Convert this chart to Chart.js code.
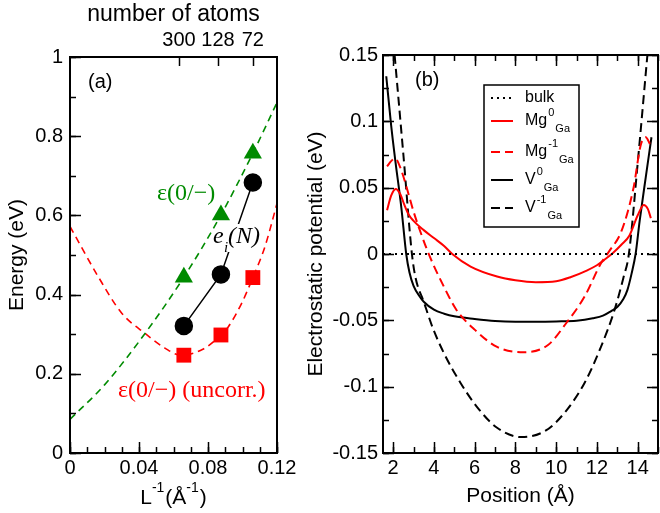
<!DOCTYPE html>
<html>
<head>
<meta charset="utf-8">
<script src="https://cdn.jsdelivr.net/npm/chart.js@4/dist/chart.umd.min.js"></script>
<style>
html, body { margin: 0; padding: 0; background: #fff; }
#wrap { position: relative; width: 660px; height: 513px; overflow: hidden; }
#c1 { position: absolute; left: 0; top: 0; }
#c2 { position: absolute; left: 300px; top: 0; }
</style>
</head>
<body>
<div id="wrap">
  <canvas id="c1" width="300" height="513"></canvas>
  <canvas id="c2" width="360" height="513"></canvas>
</div>
<script>
// ---- panneau (a) : niveaux vs 1/L ----
const invL = [0.066, 0.0875, 0.106];
const epsCorr = [0.444, 0.601, 0.757];     // triangles verts
const eiN = [0.321, 0.451, 0.683];         // cercles noirs
const epsUncorr = [0.247, 0.298, 0.443];   // carrés rouges
// courbes d'ajustement
const fitCorrX = [0, 0.02, 0.0435, 0.066, 0.0875, 0.106, 0.12];
const fitCorrY = [0.085, 0.172, 0.302, 0.444, 0.601, 0.757, 0.885];
const fitUncX = [0, 0.0164, 0.03, 0.0435, 0.055, 0.064, 0.077, 0.0875, 0.0918, 0.0995, 0.106, 0.113, 0.12];
const fitUncY = [0.572, 0.445, 0.353, 0.302, 0.265, 0.247, 0.262, 0.298, 0.319, 0.378, 0.443, 0.521, 0.63];
// axes
const xTicksA = [0, 0.04, 0.08, 0.12];
const yTicksA = [0, 0.2, 0.4, 0.6, 0.8, 1];
const atomTicks = [0.0632, 0.0858, 0.106];
const atomLabels = ["300", "128", "72"];

// ---- panneau (b) : potentiel électrostatique ----
const bulkX = [1.5, 15];
const bulkY = [0, 0];
const mg0X = [1.7, 1.9, 2.13, 2.35, 2.55, 2.75, 3.0, 3.5, 4.0, 4.5, 4.9, 5.8, 7.1, 8.0, 9.0, 10.0, 10.7, 11.5, 12.0, 12.4, 12.8, 13.2, 13.6, 14.0, 14.3, 14.5, 14.65];
const mg0Y = [0.033, 0.044, 0.049, 0.045, 0.037, 0.030, 0.025, 0.018, 0.012, 0.006, 0.0, -0.0095, -0.017, -0.0198, -0.0212, -0.0205, -0.0175, -0.0125, -0.0085, -0.004, 0.001, 0.007, 0.014, 0.029, 0.037, 0.034, 0.027];
const mgm1X = [1.7, 1.9, 2.1, 2.4, 2.7, 3.0, 3.4, 3.8, 4.5, 5.1, 6.0, 7.1, 8.4, 9.6, 10.5, 11.4, 12.2, 12.6, 13.2, 13.8, 14.15, 14.4, 14.6];
const mgm1Y = [0.066, 0.070, 0.072, 0.063, 0.048, 0.032, 0.014, -0.002, -0.025, -0.042, -0.057, -0.070, -0.074, -0.0686, -0.052, -0.032, -0.007, 0.002, 0.017, 0.05, 0.082, 0.088, 0.083];
const v0X = [1.66, 1.9, 2.1, 2.4, 2.64, 2.8, 3.0, 3.3, 3.5, 4.0, 4.5, 5.0, 6.0, 7.0, 8.0, 9.0, 10.0, 11.0, 11.8, 12.3, 12.7, 13.0, 13.3, 13.5, 13.7, 13.9, 14.1, 14.4, 14.68];
const v0Y = [0.134, 0.097, 0.071, 0.035, 0.0, -0.014, -0.024, -0.032, -0.036, -0.042, -0.045, -0.047, -0.049, -0.0505, -0.051, -0.051, -0.0508, -0.0503, -0.0485, -0.0465, -0.043, -0.040, -0.034, -0.027, -0.015, 0.0, 0.025, 0.058, 0.088];
const vm1X = [2.07, 2.5, 2.92, 3.1, 3.5, 3.95, 4.5, 5.3, 6.1, 7.1, 8.3, 9.5, 10.5, 11.4, 12.2, 12.85, 13.3, 13.57, 14.0, 14.48];
const vm1Y = [0.15, 0.075, 0.0, -0.018, -0.036, -0.056, -0.075, -0.097, -0.115, -0.131, -0.138, -0.133, -0.118, -0.097, -0.07, -0.043, -0.018, 0.0, 0.068, 0.15];
const posTicks = [2, 4, 6, 8, 10, 12, 14];
const potTicks = [-0.15, -0.1, -0.05, 0, 0.05, 0.1, 0.15];
const legendEntries = [
    { base: "bulk" },
    { base: "Mg", sup: "0", sub: "Ga" },
    { base: "Mg", sup: "-1", sub: "Ga" },
    { base: "V", sup: "0", sub: "Ga" },
    { base: "V", sup: "-1", sub: "Ga" }
];

const SANS = '"Liberation Sans", Arial, Helvetica, sans-serif';
const SERIF = '"Liberation Serif", "Times New Roman", serif';
const GREEN = "rgb(0,139,0)";
const RED = "#ff0000";

Chart.defaults.font.family = SANS;
Chart.defaults.color = "#000";

const pts = (xs, ys) => xs.map((x, i) => ({ x: x, y: ys[i] }));
const fmt = v => String(parseFloat(Number(v).toFixed(3)));
function range(a, b, step) {
    const out = [];
    for (let v = a; v <= b + 1e-9; v += step) out.push(+v.toFixed(4));
    return out;
}

// cadre + graduations vers l'intérieur
function cadre(specs) {
    return {
        id: "cadre",
        afterDraw(chart) {
            const { ctx, chartArea: a } = chart;
            ctx.save();
            ctx.strokeStyle = "#000";
            ctx.lineWidth = 1.5;
            specs.forEach(t => {
                const s = chart.scales[t.axis];
                t.values.forEach(v => {
                    if (v < s.min - 1e-9 || v > s.max + 1e-9) return;
                    const p = Math.round(s.getPixelForValue(v)) + 0.5;
                    ctx.beginPath();
                    if (t.side === "bottom") { ctx.moveTo(p, a.bottom); ctx.lineTo(p, a.bottom - t.len); }
                    if (t.side === "top") { ctx.moveTo(p, a.top); ctx.lineTo(p, a.top + t.len); }
                    if (t.side === "left") { ctx.moveTo(a.left, p); ctx.lineTo(a.left + t.len, p); }
                    if (t.side === "right") { ctx.moveTo(a.right, p); ctx.lineTo(a.right - t.len, p); }
                    ctx.stroke();
                });
            });
            ctx.lineWidth = 2;
            ctx.strokeRect(a.left, a.top, a.right - a.left, a.bottom - a.top);
            ctx.restore();
        }
    };
}

const tickFont = { family: SANS, size: 20 };
const titleFont = { family: SANS, size: 21 };

// textes du panneau (a)
const textesA = {
    id: "textesA",
    afterDatasetsDraw(chart) {
        const ctx = chart.ctx;
        ctx.save();
        ctx.textBaseline = "middle";
        ctx.fillStyle = "#000";
        ctx.font = "20px " + SANS;
        ctx.fillText("(a)", 88, 82);

        ctx.fillStyle = GREEN;
        ctx.font = "24px " + SERIF;
        ctx.fillText("\u03b5(0/\u2212)", 157, 194);

        ctx.fillStyle = RED;
        ctx.fillText("\u03b5(0/\u2212) (uncorr.)", 118, 391);

        // e_i(N) sur fond blanc
        ctx.fillStyle = "#fff";
        ctx.fillRect(222, 224, 38, 28);
        ctx.fillStyle = "#000";
        ctx.font = "italic 24px " + SERIF;
        ctx.fillText("e", 213, 237);
        ctx.font = "italic 15px " + SERIF;
        ctx.fillText("i", 224, 248);
        ctx.font = "italic 24px " + SERIF;
        ctx.fillText("(N)", 228, 237);

        // titre L^-1(Å^-1)
        const parts = [["L", 0], ["-1", 1], ["(\u00c5", 0], ["-1", 1], [")", 0]];
        let w = 0;
        parts.forEach(p => {
            ctx.font = (p[1] ? "14px " : "21px ") + SANS;
            w += ctx.measureText(p[0]).width + (p[1] ? 1 : 0);
        });
        const a = chart.chartArea;
        let x = (a.left + a.right) / 2 - w / 2;
        parts.forEach(p => {
            ctx.font = (p[1] ? "14px " : "21px ") + SANS;
            ctx.fillText(p[0], x, p[1] ? 488 : 498);
            x += ctx.measureText(p[0]).width + (p[1] ? 1 : 0);
        });
        ctx.restore();
    }
};

new Chart(document.getElementById("c1"), {
    type: "scatter",
    data: {
        datasets: [
            { data: pts(invL, epsCorr), xAxisID: "x", yAxisID: "y", pointStyle: "triangle", pointRadius: 10.5,
              backgroundColor: GREEN, borderColor: GREEN, borderWidth: 0, showLine: false },
            { data: pts(invL, eiN), xAxisID: "x", yAxisID: "y", pointStyle: "circle", pointRadius: 8.5,
              backgroundColor: "#000", borderColor: "#000", borderWidth: 1.5, showLine: true },
            { data: pts(invL, epsUncorr), xAxisID: "x", yAxisID: "y", pointStyle: "rect", pointRadius: 10.5,
              backgroundColor: RED, borderColor: RED, borderWidth: 0, showLine: false },
            { data: pts(fitCorrX, fitCorrY), xAxisID: "x", yAxisID: "y", showLine: true, pointRadius: 0,
              borderColor: GREEN, borderWidth: 1.6, borderDash: [7, 5], cubicInterpolationMode: "monotone" },
            { data: pts(fitUncX, fitUncY), xAxisID: "x", yAxisID: "y", showLine: true, pointRadius: 0,
              borderColor: RED, borderWidth: 1.6, borderDash: [7, 5], cubicInterpolationMode: "monotone" }
        ]
    },
    options: {
        responsive: false,
        devicePixelRatio: 1,
        animation: false,
        events: [],
        layout: { padding: { left: 0, right: 23, top: 0, bottom: 0 } },
        plugins: { legend: { display: false }, tooltip: { enabled: false } },
        scales: {
            x: {
                type: "linear", position: "bottom", min: 0, max: 0.12,
                afterBuildTicks: s => { s.ticks = xTicksA.map(v => ({ value: v })); },
                afterFit: s => { s.height = 60; },
                grid: { display: false, drawTicks: false }, border: { display: false },
                ticks: { font: tickFont, color: "#000", padding: 3, maxRotation: 0, autoSkip: false, callback: v => fmt(v) }
            },
            xTop: {
                type: "linear", position: "top", min: 0, max: 0.12,
                afterBuildTicks: s => { s.ticks = atomTicks.map(v => ({ value: v })); },
                afterFit: s => { s.height = 57; },
                grid: { display: false, drawTicks: false }, border: { display: false },
                ticks: { font: tickFont, color: "#000", padding: 5, maxRotation: 0, autoSkip: false,
                         callback: (v, i) => atomLabels[i] },
                title: { display: true, text: "number of atoms", font: { family: SANS, size: 23 }, color: "#000",
                         padding: { top: 1, bottom: 0 } }
            },
            y: {
                type: "linear", position: "left", min: 0, max: 1,
                afterBuildTicks: s => { s.ticks = yTicksA.map(v => ({ value: v })); },
                afterFit: s => { s.width = 70; },
                grid: { display: false, drawTicks: false }, border: { display: false },
                ticks: { font: tickFont, color: "#000", padding: 7, callback: v => fmt(v) },
                title: { display: true, text: "Energy (eV)", font: titleFont, color: "#000", padding: { top: 5, bottom: 0 } }
            }
        }
    },
    plugins: [cadre([
        { axis: "x", side: "bottom", values: range(0, 0.12, 0.01), len: 6 },
        { axis: "x", side: "bottom", values: xTicksA, len: 11 },
        { axis: "y", side: "left", values: range(0, 1, 0.1), len: 6 },
        { axis: "y", side: "left", values: yTicksA, len: 11 },
        { axis: "xTop", side: "top", values: atomTicks, len: 9 }
    ]), textesA]
});

// légende + étiquette du panneau (b)
const legendeB = {
    id: "legendeB",
    afterDraw(chart) {
        const ctx = chart.ctx;
        ctx.save();
        ctx.textBaseline = "middle";
        ctx.fillStyle = "#000";
        ctx.font = "20px " + SANS;
        ctx.fillText("(b)", 115, 80);

        const bx = 184, by = 85, bw = 95, bh = 142;
        ctx.fillStyle = "#fff";
        ctx.fillRect(bx, by, bw, bh);
        ctx.lineWidth = 1.5;
        ctx.strokeStyle = "#000";
        ctx.strokeRect(bx, by, bw, bh);
        const rows = [98, 121, 152, 180, 208];
        legendEntries.forEach((e, i) => {
            const ds = chart.data.datasets[i];
            const y = rows[i];
            ctx.strokeStyle = ds.borderColor;
            ctx.lineWidth = ds.borderWidth;
            ctx.setLineDash(ds.borderDash || []);
            ctx.beginPath();
            ctx.moveTo(191, y);
            ctx.lineTo(213, y);
            ctx.stroke();
            ctx.setLineDash([]);
            ctx.fillStyle = "#000";
            ctx.font = "16px " + SANS;
            let x = 225;
            ctx.fillText(e.base, x, y);
            x += ctx.measureText(e.base).width + 1;
            if (e.sup) {
                ctx.font = "11px " + SANS;
                ctx.fillText(e.sup, x, y - 8);
                x += ctx.measureText(e.sup).width + 1;
            }
            if (e.sub) {
                ctx.font = "11px " + SANS;
                ctx.fillText(e.sub, x, y + 8);
            }
        });
        ctx.restore();
    }
};

const courbe = (xs, ys, color, dash, width) => ({
    data: pts(xs, ys), showLine: true, pointRadius: 0, borderColor: color, borderWidth: width,
    borderDash: dash, cubicInterpolationMode: "monotone"
});

new Chart(document.getElementById("c2"), {
    type: "scatter",
    data: {
        datasets: [
            courbe(bulkX, bulkY, "#000", [2, 4], 2),
            courbe(mg0X, mg0Y, RED, [], 2),
            courbe(mgm1X, mgm1Y, RED, [9, 5], 2),
            courbe(v0X, v0Y, "#000", [], 2),
            courbe(vm1X, vm1Y, "#000", [9, 5], 2)
        ]
    },
    options: {
        responsive: false,
        devicePixelRatio: 1,
        animation: false,
        events: [],
        layout: { padding: { left: 0, right: 2, top: 55, bottom: 0 } },
        plugins: { legend: { display: false }, tooltip: { enabled: false } },
        scales: {
            x: {
                type: "linear", position: "bottom", min: 1.5, max: 15,
                afterBuildTicks: s => { s.ticks = posTicks.map(v => ({ value: v })); },
                afterFit: s => { s.height = 60; },
                grid: { display: false, drawTicks: false }, border: { display: false },
                ticks: { font: tickFont, color: "#000", padding: 3, maxRotation: 0, autoSkip: false, callback: v => fmt(v) },
                title: { display: true, text: "Position (\u00c5)", font: titleFont, color: "#000", padding: { top: 0, bottom: 4 } }
            },
            y: {
                type: "linear", position: "left", min: -0.15, max: 0.15,
                afterBuildTicks: s => { s.ticks = potTicks.map(v => ({ value: v })); },
                afterFit: s => { s.width = 83; },
                grid: { display: false, drawTicks: false }, border: { display: false },
                ticks: { font: tickFont, color: "#000", padding: 5, callback: v => fmt(v) },
                title: { display: true, text: "Electrostatic potential (eV)", font: titleFont, color: "#000",
                         padding: { top: 4, bottom: 0 } }
            }
        }
    },
    plugins: [cadre([
        { axis: "x", side: "bottom", values: range(2, 15, 1), len: 6 },
        { axis: "x", side: "bottom", values: posTicks, len: 11 },
        { axis: "x", side: "top", values: range(2, 15, 1), len: 6 },
        { axis: "x", side: "top", values: posTicks, len: 11 },
        { axis: "y", side: "left", values: range(-0.15, 0.15, 0.025), len: 6 },
        { axis: "y", side: "left", values: potTicks, len: 11 },
        { axis: "y", side: "right", values: range(-0.15, 0.15, 0.025), len: 6 },
        { axis: "y", side: "right", values: potTicks, len: 11 }
    ]), legendeB]
});
</script>
</body>
</html>
